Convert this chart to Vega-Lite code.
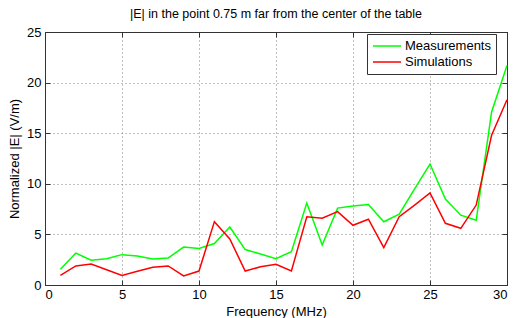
{
  "$schema": "https://vega.github.io/schema/vega-lite/v6.json",
  "width": 462,
  "height": 253,
  "autosize": {"type": "none"},
  "padding": {"left": 45, "top": 32, "right": 6, "bottom": 33},
  "background": "white",
  "title": {
    "text": "|E| in the point 0.75 m far from the center of the table",
    "font": "Liberation Sans",
    "fontSize": 12.5,
    "fontWeight": "normal",
    "color": "black",
    "anchor": "middle",
    "offset": 6
  },
  "config": {
    "view": {"stroke": "#333333", "strokeWidth": 1},
    "axis": {
      "labelFont": "Liberation Sans",
      "titleFont": "Liberation Sans",
      "labelFontSize": 13,
      "titleFontSize": 13,
      "titleFontWeight": "normal",
      "labelColor": "black",
      "titleColor": "black",
      "domainColor": "#333333",
      "tickColor": "#333333"
    }
  },
  "data": {
    "values": [
      {"f": 1, "v": 1.55, "s": "Measurements"},
      {"f": 2, "v": 3.15, "s": "Measurements"},
      {"f": 3, "v": 2.45, "s": "Measurements"},
      {"f": 4, "v": 2.6, "s": "Measurements"},
      {"f": 5, "v": 3.0, "s": "Measurements"},
      {"f": 6, "v": 2.87, "s": "Measurements"},
      {"f": 7, "v": 2.57, "s": "Measurements"},
      {"f": 8, "v": 2.67, "s": "Measurements"},
      {"f": 9, "v": 3.75, "s": "Measurements"},
      {"f": 10, "v": 3.6, "s": "Measurements"},
      {"f": 11, "v": 4.1, "s": "Measurements"},
      {"f": 12, "v": 5.73, "s": "Measurements"},
      {"f": 13, "v": 3.5, "s": "Measurements"},
      {"f": 14, "v": 3.06, "s": "Measurements"},
      {"f": 15, "v": 2.6, "s": "Measurements"},
      {"f": 16, "v": 3.3, "s": "Measurements"},
      {"f": 17, "v": 8.1, "s": "Measurements"},
      {"f": 18, "v": 3.95, "s": "Measurements"},
      {"f": 19, "v": 7.6, "s": "Measurements"},
      {"f": 20, "v": 7.8, "s": "Measurements"},
      {"f": 21, "v": 7.95, "s": "Measurements"},
      {"f": 22, "v": 6.25, "s": "Measurements"},
      {"f": 23, "v": 7.0, "s": "Measurements"},
      {"f": 24, "v": 9.5, "s": "Measurements"},
      {"f": 25, "v": 11.95, "s": "Measurements"},
      {"f": 26, "v": 8.5, "s": "Measurements"},
      {"f": 27, "v": 6.9, "s": "Measurements"},
      {"f": 28, "v": 6.4, "s": "Measurements"},
      {"f": 29, "v": 17.1, "s": "Measurements"},
      {"f": 30, "v": 21.7, "s": "Measurements"},
      {"f": 1, "v": 0.95, "s": "Simulations"},
      {"f": 2, "v": 1.88, "s": "Simulations"},
      {"f": 3, "v": 2.07, "s": "Simulations"},
      {"f": 4, "v": 1.5, "s": "Simulations"},
      {"f": 5, "v": 0.95, "s": "Simulations"},
      {"f": 6, "v": 1.35, "s": "Simulations"},
      {"f": 7, "v": 1.75, "s": "Simulations"},
      {"f": 8, "v": 1.88, "s": "Simulations"},
      {"f": 9, "v": 0.9, "s": "Simulations"},
      {"f": 10, "v": 1.38, "s": "Simulations"},
      {"f": 11, "v": 6.26, "s": "Simulations"},
      {"f": 12, "v": 4.55, "s": "Simulations"},
      {"f": 13, "v": 1.38, "s": "Simulations"},
      {"f": 14, "v": 1.8, "s": "Simulations"},
      {"f": 15, "v": 2.04, "s": "Simulations"},
      {"f": 16, "v": 1.38, "s": "Simulations"},
      {"f": 17, "v": 6.75, "s": "Simulations"},
      {"f": 18, "v": 6.6, "s": "Simulations"},
      {"f": 19, "v": 7.25, "s": "Simulations"},
      {"f": 20, "v": 5.9, "s": "Simulations"},
      {"f": 21, "v": 6.5, "s": "Simulations"},
      {"f": 22, "v": 3.7, "s": "Simulations"},
      {"f": 23, "v": 6.75, "s": "Simulations"},
      {"f": 24, "v": 7.9, "s": "Simulations"},
      {"f": 25, "v": 9.1, "s": "Simulations"},
      {"f": 26, "v": 6.1, "s": "Simulations"},
      {"f": 27, "v": 5.6, "s": "Simulations"},
      {"f": 28, "v": 7.9, "s": "Simulations"},
      {"f": 29, "v": 14.8, "s": "Simulations"},
      {"f": 30, "v": 18.3, "s": "Simulations"}
    ]
  },
  "resolve": {"axis": {"x": "independent", "y": "independent"}},
  "layer": [
    {
      "mark": {"type": "line", "strokeOpacity": 0},
      "encoding": {
        "x": {
          "field": "f",
          "type": "quantitative",
          "scale": {"domain": [0, 30], "nice": false},
          "axis": {
            "orient": "bottom",
            "values": [0, 5, 10, 15, 20, 25, 30],
            "grid": true,
            "gridColor": "#808080",
            "gridDash": [1, 3],
            "ticks": false,
            "title": "Frequency (MHz)",
            "labelPadding": 3,
            "titlePadding": 4
          }
        },
        "y": {
          "field": "v",
          "type": "quantitative",
          "scale": {"domain": [0, 25], "nice": false},
          "axis": {
            "orient": "left",
            "values": [0, 5, 10, 15, 20, 25],
            "grid": true,
            "gridColor": "#808080",
            "gridDash": [1, 3],
            "ticks": false,
            "title": "Normalized |E| (V/m)",
            "labelPadding": 4,
            "titlePadding": 5
          }
        }
      }
    },
    {
      "mark": {"type": "line", "strokeOpacity": 0},
      "encoding": {
        "x": {
          "field": "f",
          "type": "quantitative",
          "scale": {"domain": [0, 30], "nice": false},
          "axis": {
            "orient": "top",
            "values": [0, 5, 10, 15, 20, 25, 30],
            "labels": false,
            "grid": false,
            "tickSize": -5,
            "title": null
          }
        },
        "y": {
          "field": "v",
          "type": "quantitative",
          "scale": {"domain": [0, 25], "nice": false},
          "axis": {
            "orient": "right",
            "values": [0, 5, 10, 15, 20, 25],
            "labels": false,
            "grid": false,
            "tickSize": -5,
            "title": null
          }
        }
      }
    },
    {
      "mark": {"type": "line", "strokeWidth": 1.5},
      "encoding": {
        "x": {
          "field": "f",
          "type": "quantitative",
          "scale": {"domain": [0, 30], "nice": false},
          "axis": {
            "orient": "bottom",
            "values": [0, 5, 10, 15, 20, 25, 30],
            "labels": false,
            "grid": false,
            "tickSize": -5,
            "title": null
          }
        },
        "y": {
          "field": "v",
          "type": "quantitative",
          "scale": {"domain": [0, 25], "nice": false},
          "axis": {
            "orient": "left",
            "values": [0, 5, 10, 15, 20, 25],
            "labels": false,
            "grid": false,
            "tickSize": -5,
            "title": null
          }
        },
        "color": {
          "field": "s",
          "type": "nominal",
          "scale": {"domain": ["Measurements", "Simulations"], "range": ["#00ff00", "#ff0000"]},
          "legend": {
            "title": null,
            "orient": "none",
            "legendX": 322,
            "legendY": 2,
            "symbolType": "stroke",
            "symbolSize": 784,
            "symbolStrokeWidth": 1.5,
            "clipHeight": 14,
            "labelFont": "Liberation Sans",
            "labelFontSize": 13,
            "labelColor": "black",
            "strokeColor": "#333333",
            "fillColor": "white",
            "padding": 5,
            "rowPadding": 2,
            "labelOffset": 3
          }
        }
      }
    }
  ]
}
